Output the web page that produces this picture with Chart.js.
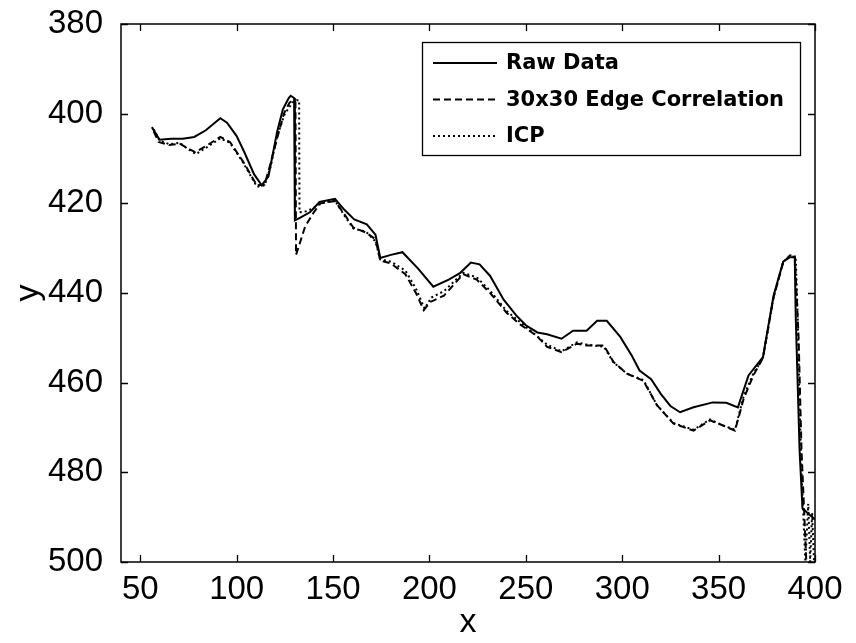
<!DOCTYPE html>
<html>
<head>
<meta charset="utf-8">
<script src="https://cdn.jsdelivr.net/npm/chart.js@4.4.1/dist/chart.umd.min.js"></script>
<style>
  html, body { margin: 0; padding: 0; background: #fff; }
  #wrap { width: 856px; height: 643px; }
</style>
</head>
<body>
<div id="wrap"><canvas id="myChart" width="856" height="643"></canvas></div>
<script>
// values
var rawX = [56, 60, 66, 72, 78, 84, 91.5, 95, 100, 104, 109, 113, 116.5, 121, 124, 127, 128, 129.8, 130.2, 133, 138, 143, 151, 156, 161, 167.5, 172, 174.5, 180, 186, 194, 202, 210, 216, 221.5, 226, 231.5, 238.5, 245, 250, 256, 261, 268.5, 274.5, 281.5, 287, 292, 299, 305, 309, 315, 320, 325, 330, 337, 347, 354, 360, 365.5, 373, 378.5, 383.5, 387, 389.5, 390, 391, 392, 393.5, 396, 400];
var rawY = [403, 405.8, 405.6, 405.6, 405.2, 403.7, 401, 402, 405, 408.6, 413.5, 416, 414, 404, 399, 396.5, 396, 396.5, 423.8, 423.2, 422, 419.7, 419, 421.5, 423.6, 424.7, 427, 432.2, 431.5, 430.9, 434.5, 438.6, 437, 435.5, 433.2, 433.6, 436.2, 441.5, 445, 447.2, 448.8, 449.2, 450.2, 448.4, 448.4, 446.2, 446.2, 449.8, 454, 457.3, 459.2, 462.5, 465.2, 466.6, 465.5, 464.4, 464.5, 465.5, 458.4, 454.3, 440.6, 433, 432, 432, 445, 460, 475, 488, 489, 490.5];

var edgeX = [57, 59.5, 65, 70.5, 75, 78.5, 84.5, 91.5, 96.5, 103.5, 110.5, 114.5, 117, 121, 124.5, 127.5, 129.5, 130.5, 130.8, 135.5, 140, 143.5, 151, 156, 160.5, 167, 172, 174.5, 180, 187.5, 193, 197, 200.5, 207.5, 217.5, 224.5, 231.5, 240, 247, 255.5, 261, 268.5, 276.5, 281.5, 290.5, 295.5, 302.5, 311, 318, 326.5, 337, 345.5, 352, 358.5, 363, 368, 373, 378.5, 383.5, 387, 389.5, 391.5, 393, 394.5, 395.5];
var edgeY = [404, 406.3, 407, 406.7, 407.8, 408.6, 407.1, 405.2, 406.3, 410.8, 416, 415.8, 412, 405.5, 400, 397.5, 397, 397.5, 431.5, 425.2, 422, 420, 419.5, 422.5, 425.4, 426.5, 428, 432.8, 433.4, 435.8, 440, 443.8, 442, 440.6, 435.8, 437, 440, 444.4, 447, 449.5, 452, 453.2, 451.3, 451.7, 451.7, 455.4, 458, 459.6, 465, 469.1, 470.7, 468.4, 469.5, 470.7, 463.6, 458.4, 454.5, 441, 433.2, 431.6, 431.5, 450, 475, 490, 500];

var icpX = [57, 60, 65, 70.5, 75, 79, 84.5, 91.5, 96.5, 103.5, 110.5, 114.5, 117.5, 121, 125, 129, 131, 132.4, 132.6, 136, 140, 143.5, 151, 156, 160.5, 167, 172, 174.5, 180, 187.5, 193, 197.5, 201, 207.5, 217.5, 224.5, 231.5, 240, 247, 255.5, 261, 268.5, 276.5, 281.5, 290.5, 295.5, 302.5, 311, 318, 326.5, 337, 345.5, 352, 358.5, 363, 368, 373, 378.5, 383.5, 387, 390, 391, 392, 393, 394, 395, 396.5, 397.5, 398.5, 399.5];
var icpY = [403.5, 406, 406.8, 406.5, 408, 409, 407.5, 405.5, 406.5, 411, 416.3, 416, 412, 405, 400, 397.5, 397, 397, 422, 421.8, 421, 420, 419.4, 422.8, 425.6, 426.3, 428.5, 432.5, 433, 435, 439, 443.5, 441, 439.6, 435.5, 436.5, 439.5, 444, 446.5, 449.5, 451.5, 453, 451, 451.5, 452, 455.5, 458, 459.4, 465, 469, 470.5, 468.2, 469.5, 470.5, 463, 458, 454.5, 441, 433, 431.8, 432, 445, 465, 480, 490, 500, 487, 500, 489, 500];

var xTicks = [50, 100, 150, 200, 250, 300, 350, 400];
var yTicks = [380, 400, 420, 440, 460, 480, 500];

function pts(xs, ys) {
  return xs.map(function (x, i) { return {x: x, y: ys[i]}; });
}

// MATLAB style: box around the axes, ticks pointing inwards, legend inside
var matlabBox = {
  id: 'matlabBox',
  afterDatasetsDraw: function (chart) {
    var c = chart.ctx, a = chart.chartArea;
    var xs = chart.scales.x, ys = chart.scales.y;
    var len = 7;
    c.save();
    c.strokeStyle = '#000';
    c.lineWidth = 1.3;
    c.beginPath();
    xTicks.forEach(function (v) {
      var p = Math.round(xs.getPixelForValue(v)) + 0.5;
      c.moveTo(p, a.bottom); c.lineTo(p, a.bottom - len);
      c.moveTo(p, a.top); c.lineTo(p, a.top + len);
    });
    yTicks.forEach(function (v) {
      var p = Math.round(ys.getPixelForValue(v)) + 0.5;
      c.moveTo(a.left, p); c.lineTo(a.left + len, p);
      c.moveTo(a.right, p); c.lineTo(a.right - len, p);
    });
    c.stroke();
    c.lineWidth = 1.5;
    c.strokeRect(a.left, a.top, a.right - a.left, a.bottom - a.top);

    // legend
    var bx = 422, by = 42, bw = 378, bh = 113;
    c.fillStyle = '#fff';
    c.fillRect(bx, by, bw, bh);
    c.lineWidth = 1.3;
    c.strokeRect(bx + 0.5, by + 0.5, bw, bh);
    c.font = 'bold 21px "DejaVu Sans", sans-serif';
    c.textBaseline = 'middle';
    chart.data.datasets.forEach(function (ds, i) {
      var yy = by + 21 + i * 36.5;
      c.beginPath();
      c.setLineDash(ds.borderDash || []);
      c.lineWidth = ds.borderWidth;
      c.moveTo(bx + 11, yy); c.lineTo(bx + 75, yy);
      c.stroke();
      c.setLineDash([]);
      c.fillStyle = '#000';
      c.fillText(ds.label, bx + 84, yy + 1);
    });
    c.restore();
  }
};

var ctx = document.getElementById('myChart').getContext('2d');
var myChart = new Chart(ctx, {
  type: 'line',
  data: {
    datasets: [{
        data: pts(rawX, rawY),
        label: 'Raw Data',
        borderColor: '#000',
        borderWidth: 2,
        pointRadius: 0
      }, {
        data: pts(edgeX, edgeY),
        label: '30x30 Edge Correlation',
        borderColor: '#000',
        borderWidth: 2,
        borderDash: [7, 4],
        pointRadius: 0
      }, {
        data: pts(icpX, icpY),
        label: 'ICP',
        borderColor: '#000',
        borderWidth: 2,
        borderDash: [2, 3],
        pointRadius: 0
      }
    ]
  },
  options: {
    responsive: false,
    animation: false,
    layout: { padding: { left: 0, right: 41, top: 24, bottom: 0 } },
    plugins: {
      legend: { display: false },
      tooltip: { enabled: false }
    },
    scales: {
      x: {
        type: 'linear',
        min: 40,
        max: 400,
        afterBuildTicks: function (s) { s.ticks = xTicks.map(function (v) { return {value: v}; }); },
        afterFit: function (s) { s.height = 81; s.paddingLeft = 0; s.paddingRight = 0; },
        grid: { display: false },
        border: { display: false },
        ticks: {
          color: '#000',
          padding: 0,
          maxRotation: 0,
          font: { family: '"Liberation Sans", Arial, sans-serif', size: 33 }
        },
        title: {
          display: true,
          text: 'x',
          color: '#000',
          padding: { top: 0, bottom: 0 },
          font: { family: '"Liberation Sans", Arial, sans-serif', size: 34 }
        }
      },
      y: {
        reverse: true,
        min: 380,
        max: 500,
        afterBuildTicks: function (s) { s.ticks = yTicks.map(function (v) { return {value: v}; }); },
        afterFit: function (s) { s.width = 121; s.paddingTop = 0; s.paddingBottom = 0; },
        grid: { display: false },
        border: { display: false },
        ticks: {
          color: '#000',
          padding: 10,
          font: { family: '"Liberation Sans", Arial, sans-serif', size: 33 }
        },
        title: {
          display: true,
          text: 'y',
          color: '#000',
          padding: { top: 8, bottom: 0 },
          font: { family: '"Liberation Sans", Arial, sans-serif', size: 34 }
        }
      }
    }
  },
  plugins: [matlabBox]
});
</script>
</body>
</html>
